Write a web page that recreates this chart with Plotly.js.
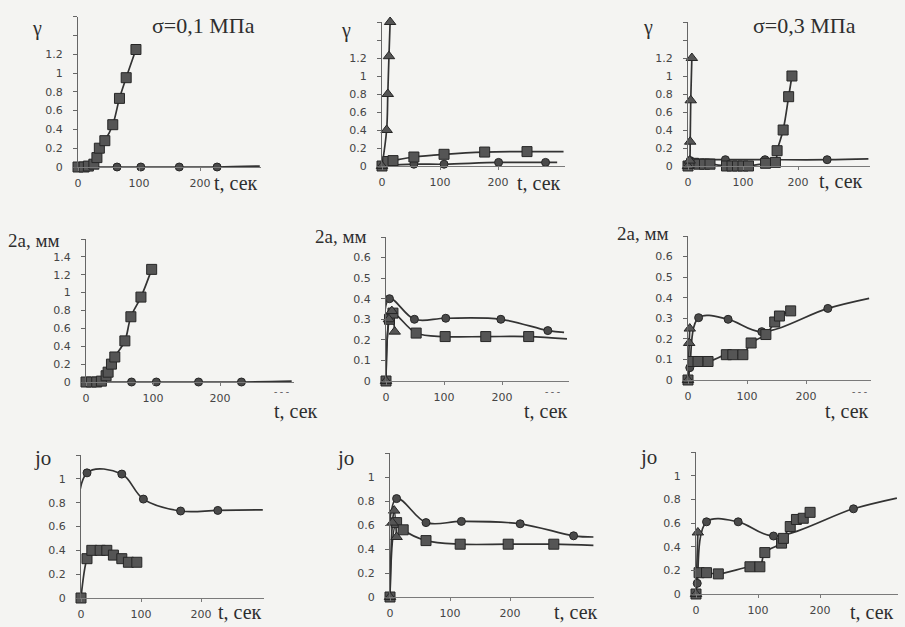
<!DOCTYPE html>
<html><head><meta charset="utf-8">
<script src="https://cdn.plot.ly/plotly-3.0.1.min.js"></script>
<style>html,body{margin:0;padding:0;background:#f4f4f2;}#chart{width:905px;height:627px;}</style>
</head><body><div id="chart"></div>
<script>
// ---------- DATA (t in seconds) ----------
// Panel 1: gamma, sigma = 0.1 MPa
const p1_sq_t = [0, 10, 17, 26, 31, 35, 44, 57, 68, 79, 95];
const p1_sq_y = [0, 0, 0.01, 0.03, 0.1, 0.2, 0.28, 0.45, 0.73, 0.95, 1.25];
const p1_ci_t = [0, 64, 103, 166, 228];
const p1_ci_y = [0, 0, 0, 0, 0];
const p1_ci_end = [298, 0.01];
// Panel 2: gamma
const p2_tr_t = [0, 8, 10, 12, 14];
const p2_tr_y = [0, 0.4, 0.8, 1.22, 1.6];
const p2_sq_t = [0, 10, 19, 55, 107, 177, 250];
const p2_sq_y = [0, 0.05, 0.06, 0.1, 0.13, 0.155, 0.16];
const p2_sq_end = [313, 0.16];
const p2_ci_t = [0, 55, 107, 201, 282];
const p2_ci_y = [0, 0.02, 0.02, 0.04, 0.04];
const p2_ci_end = [302, 0.04];
// Panel 3: gamma, sigma = 0.3 MPa
const p3_tr_t = [0, 3, 4, 5, 7];
const p3_tr_y = [0, 0.06, 0.27, 0.73, 1.2];
const p3_sq_t = [0, 10, 20, 30, 40, 70, 80, 90, 100, 110, 141, 159, 162, 173, 183, 189];
const p3_sq_y = [0, 0.03, 0.02, 0.02, 0.02, 0, 0, 0, 0, 0, 0.03, 0.04, 0.17, 0.4, 0.77, 1.0];
const p3_ci_t = [0, 4, 68, 140, 253];
const p3_ci_y = [0, 0.06, 0.07, 0.07, 0.07];
const p3_ci_end = [328, 0.08];
// Panel 4: 2a, sigma = 0.1 MPa
const p4_sq_t = [0, 8, 16, 23, 30, 33, 38, 43, 58, 67, 82, 98];
const p4_sq_y = [0, 0, 0, 0.01, 0.07, 0.11, 0.2, 0.28, 0.46, 0.73, 0.95, 1.26];
const p4_ci_t = [0, 68, 105, 168, 232];
const p4_ci_y = [0, 0, 0, 0, 0];
const p4_ci_end = [307, 0.01];
// Panel 5: 2a
const p5_ci_t = [0, 6, 49, 103, 198, 279];
const p5_ci_y = [0, 0.4, 0.3, 0.305, 0.3, 0.245];
const p5_ci_end = [307, 0.236];
const p5_sq_t = [0, 6, 12, 52, 102, 172, 246];
const p5_sq_y = [0, 0.3, 0.33, 0.233, 0.216, 0.216, 0.216];
const p5_sq_end = [312, 0.205];
const p5_tr_t = [0, 5, 10, 15];
const p5_tr_y = [0, 0.3, 0.34, 0.24];
// Panel 6: 2a, sigma = 0.3 MPa
const p6_ci_t = [0, 3, 18, 68, 125, 237];
const p6_ci_y = [0, 0.06, 0.303, 0.295, 0.235, 0.348];
const p6_ci_end = [307, 0.397];
const p6_sq_t = [0, 8, 17, 34, 65, 76, 93, 107, 132, 147, 155, 174];
const p6_sq_y = [0, 0.09, 0.09, 0.09, 0.123, 0.123, 0.123, 0.18, 0.221, 0.282, 0.311, 0.336];
const p6_tr_t = [0, 2, 3];
const p6_tr_y = [0, 0.18, 0.25];
// Panel 7: j0, sigma = 0.1 MPa
const p7_ci_t = [0, 10, 68, 104, 166, 228];
const p7_ci_y = [0, 1.05, 1.04, 0.83, 0.73, 0.735];
const p7_ci_end = [303, 0.74];
const p7_sq_t = [0, 10, 18, 32, 43, 54, 68, 79, 93];
const p7_sq_y = [0, 0.33, 0.4, 0.4, 0.4, 0.36, 0.33, 0.3, 0.3];
// Panel 8: j0
const p8_ci_t = [0, 11, 60, 119, 217, 306];
const p8_ci_y = [0, 0.82, 0.62, 0.63, 0.61, 0.51];
const p8_ci_end = [339, 0.5];
const p8_sq_t = [0, 11, 22, 60, 117, 197, 273];
const p8_sq_y = [0, 0.62, 0.56, 0.47, 0.44, 0.44, 0.44];
const p8_sq_end = [339, 0.43];
const p8_tr_t = [0, 4, 7, 11];
const p8_tr_y = [0, 0.62, 0.72, 0.5];
// Panel 9: j0, sigma = 0.3 MPa
const p9_ci_t = [0, 2, 17, 68, 125, 254];
const p9_ci_y = [0, 0.09, 0.61, 0.61, 0.49, 0.72];
const p9_ci_end = [324, 0.81];
const p9_sq_t = [0, 5, 17, 36, 87, 103, 111, 138, 141, 152, 162, 173, 184];
const p9_sq_y = [0, 0.18, 0.18, 0.17, 0.23, 0.23, 0.35, 0.43, 0.47, 0.57, 0.63, 0.64, 0.69];
const p9_tr_t = [0, 3];
const p9_tr_y = [0, 0.52];

// Tick values / labels (labelled ticks; unlabelled top ticks drawn as minor ticks)
const tTicks = [0, 100, 200];
const tLabels = ['0', '100', '200'];
const gTicks = [0, 0.2, 0.4, 0.6, 0.8, 1, 1.2];
const gLabels = ['0', '0.2', '0.4', '0.6', '0.8', '1', '1.2'];
const gExtra = [1.4, 1.6];
const a1Ticks = [0, 0.2, 0.4, 0.6, 0.8, 1, 1.2, 1.4];
const a1Labels = ['0', '0.2', '0.4', '0.6', '0.8', '1', '1.2', '1.4'];
const a1Extra = [1.6];
const aTicks = [0, 0.1, 0.2, 0.3, 0.4, 0.5, 0.6];
const aLabels = ['0', '0.1', '0.2', '0.3', '0.4', '0.5', '0.6'];
const aExtra = [0.7];
const jTicks = [0, 0.2, 0.4, 0.6, 0.8, 1];
const jLabels = ['0', '0.2', '0.4', '0.6', '0.8', '1'];
const jExtra = [1.2];

// ---------- LAYOUT GEOMETRY (pixels) ----------
const W = 905, H = 627;
const panels = [
  {ox: 78,  s: 0.61, xmax: 300, y0: 167, ytop: 16.6, ymax: 1.6, yt: gTicks,  yl: gLabels,  ye: gExtra},
  {ox: 382, s: 0.58, xmax: 315, y0: 166, ytop: 22,   ymax: 1.6, yt: gTicks,  yl: gLabels,  ye: gExtra},
  {ox: 688, s: 0.55, xmax: 330, y0: 166, ytop: 22,   ymax: 1.6, yt: gTicks,  yl: gLabels,  ye: gExtra},
  {ox: 86,  s: 0.67, xmax: 310, y0: 382, ytop: 239,  ymax: 1.6, yt: a1Ticks, yl: a1Labels, ye: a1Extra},
  {ox: 386, s: 0.58, xmax: 315, y0: 381, ytop: 237,  ymax: 0.7, yt: aTicks,  yl: aLabels,  ye: aExtra},
  {ox: 688, s: 0.59, xmax: 310, y0: 380, ytop: 236,  ymax: 0.7, yt: aTicks,  yl: aLabels,  ye: aExtra},
  {ox: 81,  s: 0.60, xmax: 305, y0: 598, ytop: 455,  ymax: 1.2, yt: jTicks,  yl: jLabels,  ye: jExtra},
  {ox: 390, s: 0.60, xmax: 340, y0: 597, ytop: 453,  ymax: 1.2, yt: jTicks,  yl: jLabels,  ye: jExtra},
  {ox: 696, s: 0.62, xmax: 325, y0: 594, ytop: 452,  ymax: 1.2, yt: jTicks,  yl: jLabels,  ye: jExtra}
];

const LINE = '#333333';
const MK = {
  sq: {symbol: 'square', size: 10, color: '#555555', line: {color: '#262626', width: 1}},
  ci: {symbol: 'circle', size: 8, color: '#4a4a4a', line: {color: '#262626', width: 1}},
  tr: {symbol: 'triangle-up', size: 10, color: '#555555', line: {color: '#262626', width: 1}}
};

const lineTraces = [], markTraces = [];
function series(i, kind, t, y, end) {
  const xa = i === 1 ? 'x' : 'x' + i, ya = i === 1 ? 'y' : 'y' + i;
  const lt = end ? t.concat([end[0]]) : t.slice();
  const ly = end ? y.concat([end[1]]) : y.slice();
  lineTraces.push({x: lt, y: ly, xaxis: xa, yaxis: ya, mode: 'lines', type: 'scatter',
    line: {color: LINE, width: 1.7, shape: 'spline', smoothing: 1}, hoverinfo: 'skip', showlegend: false});
  markTraces.push({x: t, y: y, xaxis: xa, yaxis: ya, mode: 'markers', type: 'scatter',
    marker: MK[kind], cliponaxis: false, showlegend: false});
}
series(1, 'ci', p1_ci_t, p1_ci_y, p1_ci_end);
series(1, 'sq', p1_sq_t, p1_sq_y);
series(2, 'ci', p2_ci_t, p2_ci_y, p2_ci_end);
series(2, 'sq', p2_sq_t, p2_sq_y, p2_sq_end);
series(2, 'tr', p2_tr_t, p2_tr_y);
series(3, 'ci', p3_ci_t, p3_ci_y, p3_ci_end);
series(3, 'sq', p3_sq_t, p3_sq_y);
series(3, 'tr', p3_tr_t, p3_tr_y);
series(4, 'ci', p4_ci_t, p4_ci_y, p4_ci_end);
series(4, 'sq', p4_sq_t, p4_sq_y);
series(5, 'ci', p5_ci_t, p5_ci_y, p5_ci_end);
series(5, 'sq', p5_sq_t, p5_sq_y, p5_sq_end);
series(5, 'tr', p5_tr_t, p5_tr_y);
series(6, 'ci', p6_ci_t, p6_ci_y, p6_ci_end);
series(6, 'sq', p6_sq_t, p6_sq_y);
series(6, 'tr', p6_tr_t, p6_tr_y);
series(7, 'ci', p7_ci_t, p7_ci_y, p7_ci_end);
series(7, 'sq', p7_sq_t, p7_sq_y);
series(8, 'ci', p8_ci_t, p8_ci_y, p8_ci_end);
series(8, 'sq', p8_sq_t, p8_sq_y, p8_sq_end);
series(8, 'tr', p8_tr_t, p8_tr_y);
series(9, 'ci', p9_ci_t, p9_ci_y, p9_ci_end);
series(9, 'sq', p9_sq_t, p9_sq_y);
series(9, 'tr', p9_tr_t, p9_tr_y);

const layout = {
  width: W, height: H, autosize: false,
  margin: {l: 0, r: 0, t: 0, b: 0, pad: 0},
  paper_bgcolor: '#f4f4f2', plot_bgcolor: 'rgba(0,0,0,0)',
  showlegend: false, annotations: []
};
const tickFont = {family: 'DejaVu Sans', size: 11, color: '#454545'};
panels.forEach((p, k) => {
  const i = k + 1, sx = i === 1 ? '' : String(i);
  layout['xaxis' + sx] = {
    domain: [p.ox / W, (p.ox + p.xmax * p.s) / W], range: [0, p.xmax],
    anchor: 'y' + sx, showline: true, linecolor: '#7a7a7a', linewidth: 1,
    ticks: 'outside', ticklen: 3, tickcolor: '#7a7a7a',
    tickmode: 'array', tickvals: tTicks, ticktext: tLabels, tickfont: tickFont, ticklabelstandoff: 3,
    showgrid: false, zeroline: false, fixedrange: true
  };
  layout['yaxis' + sx] = {
    domain: [1 - p.y0 / H, 1 - p.ytop / H], range: [0, p.ymax],
    anchor: 'x' + sx, showline: true, linecolor: '#666666', linewidth: 1,
    ticks: 'outside', ticklen: 4, tickcolor: '#666666',
    tickmode: 'array', tickvals: p.yt, ticktext: p.yl, tickfont: tickFont, ticklabelstandoff: 8,
    minor: {tickmode: 'array', tickvals: p.ye, ticks: 'outside', ticklen: 4, tickcolor: '#666666', showgrid: false},
    showgrid: false, zeroline: false, fixedrange: true
  };
});

function ann(text, x, y, size, color) {
  layout.annotations.push({text: text, xref: 'paper', yref: 'paper', x: x / W, y: 1 - y / H,
    xanchor: 'left', yanchor: 'middle', showarrow: false,
    font: {family: 'Liberation Serif', size: size, color: color || '#2e2e2e'}});
}
const T = 't, сек';
ann('γ', 30, 28, 20); ann('σ=0,1 МПа', 150, 25, 22); ann(T, 212, 183, 20);
ann('γ', 339, 30, 20); ann(T, 515, 183, 20);
ann('γ', 641, 27, 20); ann('σ=0,3 МПа', 751, 25, 22); ann(T, 817, 181, 20);
ann('2a, мм', 6, 240, 19); ann(T, 272, 411, 20); ann('- - -', 272, 391, 10, '#555');
ann('2a, мм', 313, 237, 19); ann(T, 522, 411, 20); ann('- - -', 543, 391, 10, '#555');
ann('2a, мм', 615, 234, 19); ann(T, 823, 411, 20); ann('- - -', 850, 391, 10, '#555');
ann('jo', 32, 458, 21); ann(T, 216, 612, 20);
ann('jo', 335, 458, 21); ann(T, 552, 612, 20);
ann('jo', 638, 457, 21); ann(T, 848, 612, 20);

Plotly.newPlot('chart', lineTraces.concat(markTraces), layout, {staticPlot: true, displayModeBar: false});
</script></body></html>
